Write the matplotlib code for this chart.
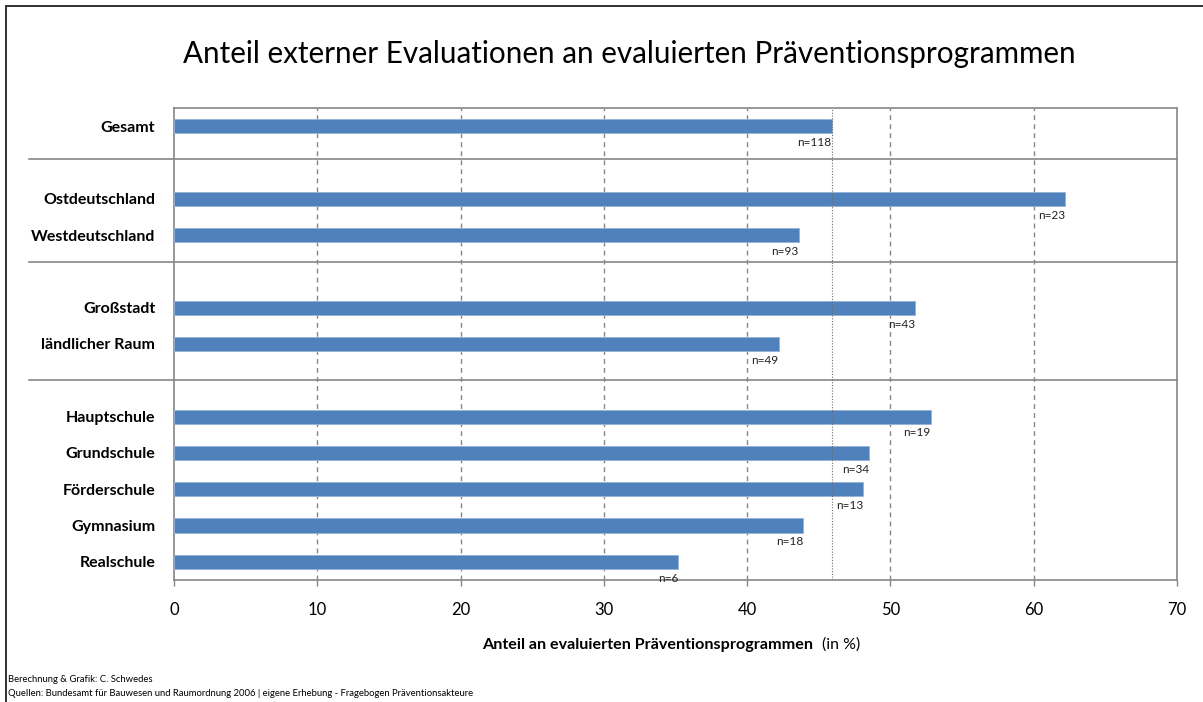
import matplotlib.pyplot as plt
import matplotlib.transforms as mtransforms
from matplotlib.patches import Rectangle

plt.rcParams['font.family'] = ['Lato', 'DejaVu Sans']

# data, grouped as in the chart (top to bottom)
groups = [
    ['Gesamt'],
    ['Ostdeutschland', 'Westdeutschland'],
    ['Großstadt', 'ländlicher Raum'],
    ['Hauptschule', 'Grundschule', 'Förderschule', 'Gymnasium', 'Realschule'],
]
values = [45.9, 62.2, 43.6, 51.7, 42.2, 52.8, 48.5, 48.1, 43.9, 35.2]
n_labels = ['n=118', 'n=23', 'n=93', 'n=43', 'n=49', 'n=19', 'n=34', 'n=13', 'n=18', 'n=6']
mean_total = 45.9
xticks = [0, 10, 20, 30, 40, 50, 60, 70]

bar_color = '#4F81BD'
grid_color = '#868686'

# one empty slot between groups
labels, pos = [], []
slot = 0
for g in groups:
    for name in g:
        labels.append(name)
        pos.append(slot)
        slot += 1
    slot += 1
n_slots = slot - 1

fig = plt.figure(figsize=(12.03, 7.02), dpi=100)
ax = fig.add_axes([174 / 1203, 1 - 580 / 702, 1003 / 1203, 472 / 702])

ax.barh(pos, values, height=0.39, color=bar_color, edgecolor='#95B3D7', linewidth=0.6, zorder=3)

ax.set_xlim(0, 70)
ax.set_ylim(n_slots - 0.5, -0.5)
ax.set_xticks(xticks)
ax.set_yticks(pos)
ax.set_yticklabels(labels, fontsize=11.5, fontweight='bold')
ax.tick_params(axis='y', length=0, pad=13.5)
ax.tick_params(axis='x', direction='out', length=4, width=1, color=grid_color,
               labelsize=12, pad=11.5)

for s in ax.spines.values():
    s.set_color(grid_color)
    s.set_linewidth(1.2)

for x in xticks[1:-1]:
    ax.axvline(x, color=grid_color, lw=1, linestyle=(0, (3.5, 3)), zorder=1)
ax.axvline(mean_total, color='#6d6d6d', lw=0.8, linestyle=(0, (1, 1.5)), zorder=4)

for p, v, t in zip(pos, values, n_labels):
    ax.text(v, p + 0.45, t, ha='right', va='center', fontsize=8.5, color='#222222', zorder=5)

# group separators, extending into label area
trans = mtransforms.blended_transform_factory(ax.transAxes, ax.transData)
for y in [0.9, 3.75, 7.0]:
    ax.plot([-0.145, 1], [y, y], transform=trans, color=grid_color, lw=1.2,
            clip_on=False, zorder=2)

fig.text(629 / 1203, 1 - 54 / 702, 'Anteil externer Evaluationen an evaluierten Präventionsprogrammen',
         ha='center', va='center', fontsize=21.3)

fig.text(813 / 1203, 1 - 645 / 702, 'Anteil an evaluierten Präventionsprogrammen',
         ha='right', va='center', fontsize=11.6, fontweight='bold')
fig.text(822 / 1203, 1 - 645 / 702, '(in %)', ha='left', va='center', fontsize=11.4)

fig.text(8 / 1203, 1 - 680 / 702, 'Berechnung & Grafik: C. Schwedes',
         ha='left', va='center', fontsize=6.8)
fig.text(8 / 1203, 1 - 693 / 702,
         'Quellen: Bundesamt für Bauwesen und Raumordnung 2006 | eigene Erhebung - Fragebogen Präventionsakteure',
         ha='left', va='center', fontsize=6.8)

# outer frame (cut at right and bottom like the reference)
fig.patches.append(Rectangle((6 / 1203, -0.05), 1.1, 1 - 5.5 / 702 + 0.05,
                             transform=fig.transFigure, fill=False,
                             edgecolor='#222222', lw=1.3))

fig.savefig('out.png', dpi=100)
